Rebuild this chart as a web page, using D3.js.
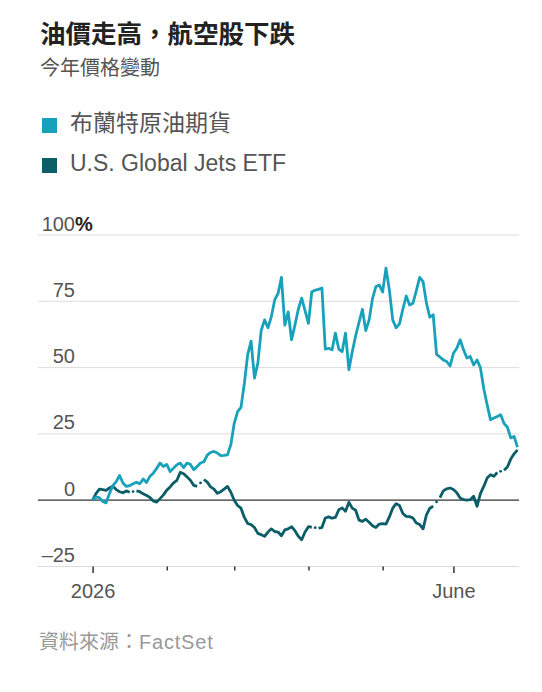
<!DOCTYPE html>
<html>
<head>
<meta charset="utf-8">
<script src="https://cdn.jsdelivr.net/npm/d3@7"></script>
<style>
  body { margin: 0; background: #fff; }
  text { font-family: "Liberation Sans", "Noto Sans CJK TC", sans-serif; }
</style>
</head>
<body>
<svg id="chart" width="542" height="692"></svg>
<script>
// weekdays Jan 1 - Jun 26 2026, US market holidays left empty for the ETF
const startDate = '2026-01-01';
const endDate = '2026-06-26';

const seriesNames = ['布蘭特原油期貨', 'U.S. Global Jets ETF'];

// % change since start of year, one value per weekday
const brent = [
  0, 1.2, 1.0, -0.5, -1.0, 2.5, 5.5, 7.0, 9.3, 6.5, 5.2, 5.5, 6.2, 6.8, 6.2, 8.0, 6.7, 9.0, 10.2, 12.0, 14.0, 12.7,
  13.5, 10.8, 12.1, 13.4, 14.0, 12.3, 14.0, 13.5, 11.5, 12.7, 14.0, 14.5, 17.0, 18.0, 18.4, 17.8, 16.8, 16.9, 17.1, 21.0,
  29.0, 33.4, 35.0, 44.0, 55.0, 60.0, 46.0, 51.7, 64.0, 68.0, 65.0, 69.2, 75.5, 78.0, 84.0, 66.0, 71.0, 60.5, 66.0, 72.0, 76.2, 71.5,
  66.7, 78.6, 79.2, 79.5, 80.0, 57.0, 57.3, 56.7, 63.0, 57.0, 56.0, 63.0, 49.2, 56.0, 62.0, 67.0, 72.0, 64.0, 68.0, 76.0, 80.5, 81.2,
  78.5, 87.5, 79.3, 68.0, 65.0, 66.5, 72.0, 77.0, 73.6, 74.3, 79.0, 84.0, 82.4, 74.3, 69.0, 69.9, 55.0, 54.0, 52.9, 52.3, 50.6,
  55.4, 57.3, 60.5, 56.7, 53.6, 54.2, 51.0, 52.9, 50.0, 42.0, 36.0, 30.3, 31.0, 31.6, 32.2, 29.0, 27.5, 23.5, 24.0, 20.0
];

const jets = [
  0, 2.5, 4.2, 4.0, 3.7, 4.6, 5.3, 4.0, 3.2, 2.8, 3.5, 3.0, null, 3.5, 3.2, 2.4, 1.8, 1.0, -0.3, -0.7, 0.6, 2.0,
  3.8, 5.0, 6.5, 7.5, 10.5, 10.0, 8.8, 7.5, 5.6, 5.2, null, 7.8, 6.8, 5.0, 4.2, 2.6, 3.2, 4.2, 5.2, 3.0,
  0.0, -2.0, -3.0, -6.5, -8.8, -9.2, -10.3, -12.5, -13.0, -13.6, -12.0, -10.8, -11.8, -12.0, -13.4, -11.2, -10.8, -10.0, -11.5, -13.6, -14.9, -12.0,
  -10.0, -10.2, null, -10.5, -10.3, -6.7, -6.3, -6.8, -6.5, -3.6, -2.9, -4.2, -0.8, -3.0, -3.8, -7.5, -8.0, -7.2, -8.3, -9.6, -10.3, -9.0,
  -8.8, -9.0, -6.3, -3.0, -1.3, -2.0, -5.0, -6.1, -6.2, -6.7, -8.6, -9.2, -10.8, -5.5, -3.0, -2.3, null, 1.0, 3.5, 4.3, 4.6,
  4.0, 2.8, 0.8, 0.2, 0.0, 0.2, 1.5, -2.3, 2.5, 5.2, 8.4, 9.6, 9.0, 10.5, null, 11.3, 12.5, 15.5, 17.5, 19.0
];

const yTicks = [-25, 0, 25, 50, 75, 100];
const yTickLabels = ['–25', '0', '25', '50', '75', '100'];
const xTickLabels = ['2026', '', '', '', '', 'June'];

const colors = { brent: '#18a1bb', jets: '#0b5d67' };

const parse = d3.utcParse('%Y-%m-%d');
const days = d3.utcDay.range(parse(startDate), d3.utcDay.offset(parse(endDate), 1))
  .filter(d => d.getUTCDay() !== 0 && d.getUTCDay() !== 6);

const svg = d3.select('#chart');

// title
svg.append('text').attr('x', 40).attr('y', 43)
  .attr('font-size', 25.5).attr('font-weight', 700).attr('fill', '#222')
  .text('油價走高，航空股下跌');
svg.append('text').attr('x', 40).attr('y', 75)
  .attr('font-size', 20).attr('fill', '#555')
  .text('今年價格變動');

// legend
const legend = svg.append('g');
[colors.brent, colors.jets].forEach((c, i) => {
  legend.append('rect').attr('x', 42).attr('y', 118 + i * 40)
    .attr('width', 15).attr('height', 15).attr('fill', c);
  legend.append('text').attr('x', 70).attr('y', 131 + i * 40)
    .attr('font-size', 23).attr('fill', '#555')
    .text(seriesNames[i]);
});

const x = d3.scalePoint().domain(days).range([92.6, 517.5]);
const y = d3.scaleLinear().domain([-25, 100]).range([566.5, 235]);

// grid
const grid = svg.append('g');
yTicks.forEach((t, i) => {
  grid.append('line')
    .attr('x1', 38).attr('x2', 519)
    .attr('y1', y(t)).attr('y2', y(t))
    .attr('stroke', t === 0 ? '#333' : '#dcdcdc')
    .attr('stroke-width', t === 0 ? 1.3 : 1);
  grid.append('text')
    .attr('x', 75).attr('y', y(t) - 4.5)
    .attr('text-anchor', 'end')
    .attr('font-size', 20).attr('fill', '#555')
    .text(yTickLabels[i]);
  if (t === 100) {
    grid.append('text').attr('x', 75).attr('y', y(t) - 4.5)
      .attr('font-size', 20).attr('font-weight', 700).attr('fill', '#222')
      .text('%');
  }
});

// x axis, one tick at first weekday of each month
const monthStarts = days.filter((d, i) => i === 0 || d.getUTCMonth() !== days[i - 1].getUTCMonth());
const xAxis = svg.append('g')
  .attr('transform', 'translate(0,' + y(-25) + ')')
  .call(d3.axisBottom(x).tickValues(monthStarts).tickSize(4).tickFormat((d, i) => xTickLabels[i]));
xAxis.select('.domain').remove();
xAxis.selectAll('.tick line')
  .attr('stroke', '#333').attr('stroke-width', 1.5)
  .attr('y2', (d, i) => xTickLabels[i] ? 6.5 : 4);
xAxis.selectAll('.tick text')
  .attr('y', 31).attr('dy', 0)
  .attr('font-size', 20).attr('fill', '#555')
  .style('font-family', '"Liberation Sans", sans-serif');

// lines
const rows = days.map((d, i) => ({ date: d, brent: brent[i], jets: jets[i] }));

const jetsLine = d3.line()
  .defined(d => d.jets !== null)
  .x(d => x(d.date)).y(d => y(d.jets));
const brentLine = d3.line()
  .defined(d => d.brent !== null)
  .x(d => x(d.date)).y(d => y(d.brent));

svg.append('path').datum(rows)
  .attr('fill', 'none').attr('stroke', colors.jets)
  .attr('stroke-width', 2.8).attr('stroke-linejoin', 'round')
  .attr('d', jetsLine);

// dotted bridge across the ETF's holiday gaps
rows.forEach((d, i) => {
  if (d.jets === null && i > 0 && i < rows.length - 1) {
    const a = rows[i - 1], b = rows[i + 1];
    svg.append('circle')
      .attr('cx', (x(a.date) + x(b.date)) / 2)
      .attr('cy', (y(a.jets) + y(b.jets)) / 2)
      .attr('r', 1.4).attr('fill', colors.jets);
  }
});

svg.append('path').datum(rows)
  .attr('fill', 'none').attr('stroke', colors.brent)
  .attr('stroke-width', 2.8).attr('stroke-linejoin', 'round')
  .attr('d', brentLine);

// source
const src = svg.append('text').attr('x', 39).attr('y', 649)
  .attr('font-size', 20).attr('fill', '#999');
src.append('tspan').text('資料來源：');
src.append('tspan').attr('letter-spacing', 0.8).text('FactSet');
</script>
</body>
</html>
